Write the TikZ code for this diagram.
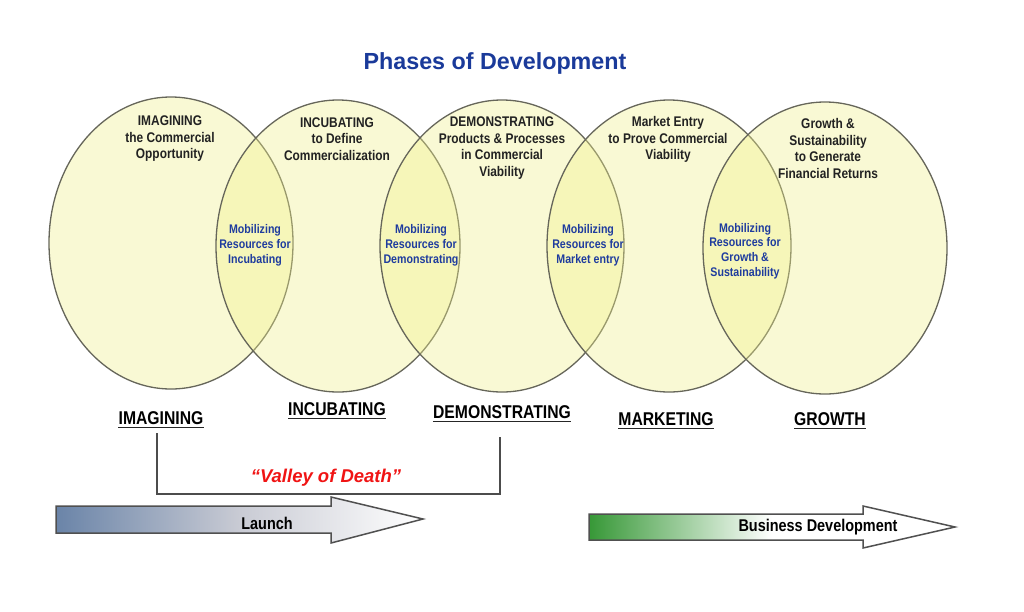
\documentclass[tikz,border=0pt]{standalone}
\usepackage{fontspec}
\setmainfont{Liberation Sans}
\newfontfamily\narrowsans[FakeStretch=0.85]{Liberation Sans}
\usetikzlibrary{shapes.geometric}
\definecolor{PhaseFill}{HTML}{F1F18B}
\definecolor{PhaseLine}{HTML}{66665A}
\definecolor{PhaseText}{HTML}{222222}
\definecolor{TitleBlue}{HTML}{1A3A9A}
\definecolor{LensBlue}{HTML}{1F3C9E}
\definecolor{ValleyRed}{HTML}{F01414}
\definecolor{LaunchSlate}{HTML}{6A84A8}
\definecolor{LaunchMid}{HTML}{C9CBD4}
\definecolor{BizGreen}{HTML}{379837}
\definecolor{ArrowEdge}{HTML}{505050}
\tikzset{
  phasering/.style={
    ellipse,
    draw=PhaseLine,
    line width=1.3pt,
    fill=PhaseFill,
    fill opacity=0.37,
    draw opacity=1,
    inner sep=0pt,
    minimum width=244pt,
    minimum height=292pt
  },
  phasetext/.style={
    align=center,
    inner sep=0pt,
    text=PhaseText,
    font=\narrowsans\bfseries\fontsize{14}{16.5}\selectfont
  },
  lenstext/.style={
    align=center,
    inner sep=0pt,
    text=LensBlue,
    font=\narrowsans\bfseries\fontsize{12.5}{14.8}\selectfont
  },
  stagelabel/.style={
    anchor=base,
    inner sep=0pt,
    font=\narrowsans\bfseries\fontsize{18.5}{22}\selectfont
  },
  stageline/.style={draw=black!85,line width=1.8pt},
  valleyline/.style={draw=black!70,line width=1.2pt},
  bandarrow/.style={draw=ArrowEdge,line width=1.5pt,line join=miter},
  bandlabel/.style={font=\narrowsans\bfseries\fontsize{17}{20}\selectfont}
}
\begin{document}
\begin{tikzpicture}[x=1pt,y=-1pt]
  \useasboundingbox[fill=white] (0,0) rectangle (1024,611);

  \node[font=\bfseries\fontsize{23.3}{28}\selectfont,text=TitleBlue] (title) at (495,63) {Phases of Development};

  \foreach \n/\cx/\cy in {1/171/243,2/338/246,3/502/246,4/669/246,5/825/248}
    \node[phasering] (ph\n) at (\cx,\cy) {};

  \node[phasetext] (imagtxt) at (170,139) {IMAGINING\\the Commercial\\Opportunity};
  \node[phasetext] (incubtxt) at (337,139) {INCUBATING\\to Define\\Commercialization};
  \node[phasetext] (demotxt) at (502,148) {DEMONSTRATING\\Products \& Processes\\in Commercial\\Viability};
  \node[phasetext] (markettxt) at (668,139.5) {Market Entry\\to Prove Commercial\\Viability};
  \node[phasetext] (growthtxt) at (828,148.5) {Growth \&\\Sustainability\\to Generate\\Financial Returns};

  \node[lenstext] (lensincub) at (255,245) {Mobilizing\\Resources for\\Incubating};
  \node[lenstext] (lensdemo) at (421,245) {Mobilizing\\Resources for\\Demonstrating};
  \node[lenstext] (lensmarket) at (588,245) {Mobilizing\\Resources for\\Market entry};
  \node[lenstext] (lensgrowth) at (745,251) {Mobilizing\\Resources for\\Growth \&\\Sustainability};

  \node[stagelabel] (imag) at (161,424) {IMAGINING};
  \node[stagelabel] (incub) at (337,415) {INCUBATING};
  \node[stagelabel] (demo) at (502,418) {DEMONSTRATING};
  \node[stagelabel] (market) at (666,425) {MARKETING};
  \node[stagelabel] (growth) at (830,425) {GROWTH};
  \foreach \s in {imag,incub,demo,market,growth}
    \draw[stageline] ([yshift=-3.5pt]\s.base west) -- ([yshift=-3.5pt]\s.base east);

  \coordinate (valleyfloor) at (330,494);
  \draw[valleyline] ([xshift=-4pt,yshift=-9pt]imag.base) -- ([xshift=-4pt]imag.base |- valleyfloor)
    -- ([xshift=-2pt]demo.base |- valleyfloor) -- ([xshift=-2pt,yshift=-19pt]demo.base);
  \node[font=\bfseries\itshape\fontsize{18.5}{22}\selectfont,text=ValleyRed] (valley) at (326,478) {``Valley of Death''};

  \draw[bandarrow,left color=LaunchSlate,right color=white,middle color=LaunchMid]
    (56,506) -- (331,506) -- (331,497) -- (423,519) -- (331,543) -- (331,533) -- (56,533) -- cycle;
  \node[bandlabel] (launch) at (267,523) {Launch};

  \draw[bandarrow,left color=BizGreen,right color=white,middle color=white]
    (589,514) -- (863,514) -- (863,506) -- (955,527) -- (863,548) -- (863,540) -- (589,540) -- cycle;
  \node[bandlabel] (business) at (818,527) {Business Development};
\end{tikzpicture}
\end{document}
